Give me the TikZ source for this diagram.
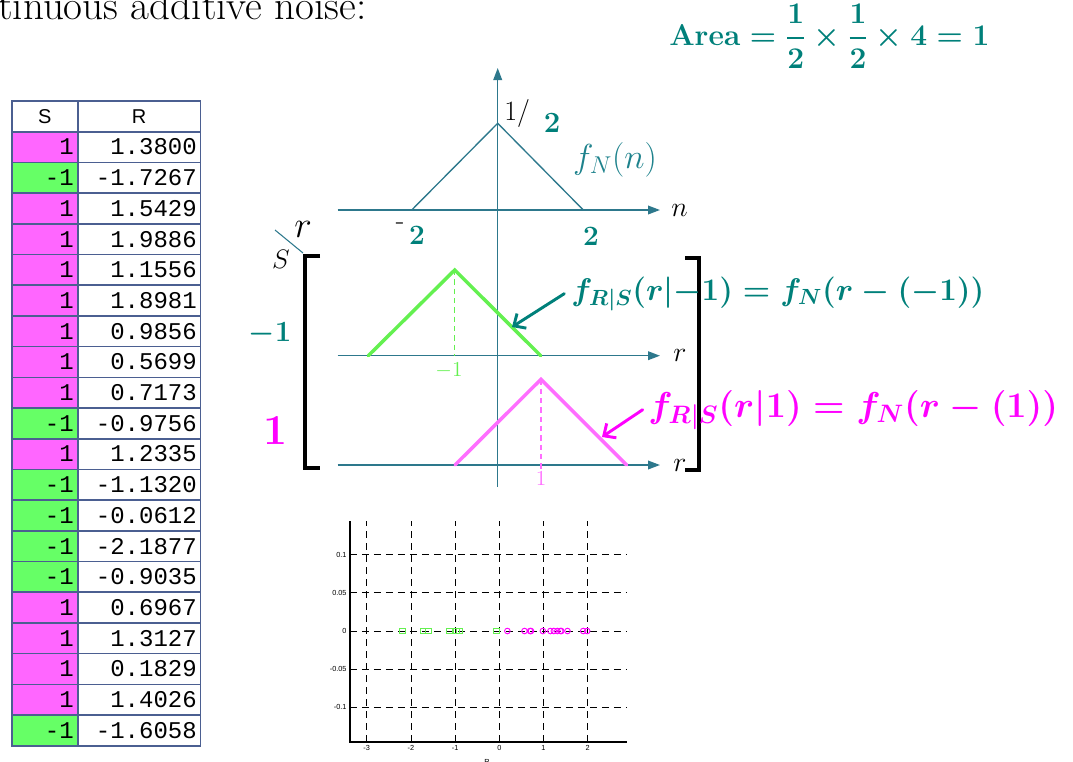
\documentclass[tikz,border=0pt]{standalone}
\usepackage{fix-cm}
\usepackage{amsmath}
\usepackage{fontspec}
\usepackage{xcolor}
\usetikzlibrary{arrows.meta}
\setsansfont{Liberation Sans}
\setmonofont{Liberation Mono}
\definecolor{AxisBlue}{RGB}{45,120,140}
\definecolor{FnTeal}{RGB}{30,130,140}
\definecolor{InkTeal}{RGB}{0,128,122}
\definecolor{InkPink}{RGB}{255,0,255}
\definecolor{CurvePink}{RGB}{255,110,255}
\definecolor{CurveGreen}{RGB}{100,240,80}
\definecolor{CellPink}{RGB}{255,102,255}
\definecolor{CellGreen}{RGB}{102,255,102}
\definecolor{GridLine}{RGB}{75,95,145}
% S / R samples, shared by the table and the scatter plot
\newcommand\samplelist{CellPink/1/1.3800, CellGreen/-1/-1.7267, CellPink/1/1.5429,
  CellPink/1/1.9886, CellPink/1/1.1556, CellPink/1/1.8981, CellPink/1/0.9856,
  CellPink/1/0.5699, CellPink/1/0.7173, CellGreen/-1/-0.9756, CellPink/1/1.2335,
  CellGreen/-1/-1.1320, CellGreen/-1/-0.0612, CellGreen/-1/-2.1877, CellGreen/-1/-0.9035,
  CellPink/1/0.6967, CellPink/1/1.3127, CellPink/1/0.1829, CellPink/1/1.4026,
  CellGreen/-1/-1.6058}

\begin{document}
\begin{tikzpicture}[x=0.75pt, y=-0.75pt,
    axisline/.style={AxisBlue, line width=1.1pt, -{Triangle[length=9pt,width=6.5pt]}},
    cell/.style={draw=GridLine, line width=1.2pt},
    celltext/.style={anchor=east, inner sep=0pt, font=\ttfamily\fontsize{18}{18}\selectfont},
    ink/.style={inner sep=0pt, font=\boldmath\fontsize{#1}{#1}\selectfont},
    lab/.style={inner sep=0pt, font=\fontsize{#1}{#1}\selectfont},
    pdfcurve/.style={line width=2.6pt, line cap=round},
    dropline/.style={dash pattern=on 4pt off 3pt, line width=1.1pt},
    inkarrow/.style={line width=2.2pt, line cap=round, -{Straight Barb[length=7pt,width=13pt]}},
    griddash/.style={black, line width=0.6pt, dash pattern=on 5pt off 4pt},
    ticklab/.style={inner sep=1pt, font=\sffamily\fontsize{5.5}{6}\selectfont}]
  \useasboundingbox (0,0) rectangle (1073,761);

  % Text cut at the top
  \node[anchor=base west, inner sep=0pt, font=\fontsize{30.8}{32}\selectfont] (intro) at (-2,19) {tinuous additive noise:};
  \node[ink=22.5, text=InkTeal, anchor=west] (area) at (669,36) {$\mathbf{Area}=\dfrac{1}{2}\times\dfrac{1}{2}\times 4=1$};

  % Table header
  \draw[cell, fill=white] (11.7,101) rectangle (77.7,131.7);
  \draw[cell, fill=white] (77.7,101) rectangle (200.3,131.7);
  \node[font=\sffamily\fontsize{15}{15}\selectfont] (headS) at (44.7,116.3) {S};
  \node[font=\sffamily\fontsize{15}{15}\selectfont] (headR) at (139,116.3) {R};
  % Table body
  \foreach \cc/\sv/\rv [count=\i] in \samplelist {
    \pgfmathsetmacro\rowtop{131.7+(\i-1)*30.7}
    \pgfmathsetmacro\rowbot{\rowtop+30.7}
    \pgfmathsetmacro\rowmid{\rowtop+15.35}
    \draw[cell, fill=\cc] (11.7,\rowtop) rectangle (77.7,\rowbot);
    \draw[cell, fill=white] (77.7,\rowtop) rectangle (200.3,\rowbot);
    \node[celltext] (s\i) at (74,\rowmid) {\sv};
    \node[celltext] (r\i) at (197,\rowmid) {\rv};
  }

  % Axes
  \coordinate (vBot) at (497.7,486.7);
  \coordinate (vTop) at (497.7,68);
  \coordinate (nLeft) at (337.7,210);
  \coordinate (nRight) at (660,210);
  \coordinate (rALeft) at (337.7,355.7);
  \coordinate (rARight) at (660,355.7);
  \coordinate (rBLeft) at (337.7,465);
  \coordinate (rBRight) at (660,465);
  \draw[axisline] (vBot) -- (vTop);
  \draw[axisline] (nLeft) -- (nRight);
  \draw[axisline] (rALeft) -- (rARight);
  \draw[axisline] (rBLeft) -- (rBRight);
  \node[lab=21, anchor=west] (nLab) at (671,210) {$n$};
  \node[lab=21, anchor=west] (rLabA) at (673,355.7) {$r$};
  \node[lab=21, anchor=west] (rLabB) at (673,465) {$r$};

  % Noise pdf
  \draw[AxisBlue, line width=1pt] (411.7,210) -- (497.7,123.3) -- (583.3,210);
  \node[lab=21, anchor=west] (peakLab) at (504,113) {1/};
  \node[ink=22, text=InkTeal] (peakTwo) at (552,123) {$2$};
  \node[text=FnTeal, font=\fontsize{26}{26}\selectfont] (fN) at (615,160) {$f_N(n)$};
  \node[lab=21] (minusTwo) at (400,226) {-};
  \node[ink=21, text=InkTeal] (leftTwo) at (417,235) {$2$};
  \node[ink=21, text=InkTeal] (rightTwo) at (591,236) {$2$};

  % Corner of the S / r table
  \node[lab=28] (cornerR) at (303,229) {$r$};
  \node[lab=20] (cornerS) at (281,259) {$S$};
  \coordinate (slashA) at (275,230);
  \coordinate (slashB) at (303,253);
  \draw[AxisBlue, line width=0.8pt] (slashA) -- (slashB);

  % Brackets
  \draw[black, line width=3pt] (320,256) -- (305,256) -- (305,468) -- (320,468);
  \draw[black, line width=3pt] (685,258) -- (699,258) -- (699,470) -- (685,470);

  % Conditional pdfs
  \draw[pdfcurve, CurveGreen] (368.3,355.7) -- (454.7,270) -- (540.7,355.7);
  \draw[dropline, CurveGreen] (454.7,270) -- (454.7,355.7);
  \node[text=CurveGreen, font=\fontsize{16}{16}\selectfont] (mOneLab) at (449,371) {$-1$};
  \draw[pdfcurve, CurvePink] (455,465) -- (541,379.3) -- (626.7,465);
  \draw[dropline, CurvePink] (541,379.3) -- (541,472);
  \node[text=CurvePink, font=\fontsize{16}{16}\selectfont] (oneLab) at (541,479) {$1$};
  \node[ink=22, text=InkTeal] (sMinus) at (270,334) {$-1$};
  \node[ink=32, text=InkPink] (sPlus) at (275,431) {$1$};

  % Handwritten notes
  \node[ink=23.5, text=InkTeal, anchor=base west] (condA) at (571,300) {$f_{R|S}(r|{-1})=f_N(r-(-1))$};
  \coordinate (tipA) at (512,327);
  \draw[inkarrow, InkTeal] ([xshift=-5pt]condA.west) -- (tipA);
  \node[ink=27, text=InkPink, anchor=base west] (condB) at (648,417) {$f_{R|S}(r|1)=f_N(r-(1))$};
  \coordinate (tipB) at (602,437);
  \draw[inkarrow, InkPink] ([xshift=-4pt]condB.west) -- (tipB);

  % Scatter of R
  \begin{scope}[shift={(499.3,631)}, x=33.15pt, y=573pt]
    \foreach \gx in {-3,...,2}
      \draw[griddash] (\gx,-0.145) -- (\gx,0.1436);
    \foreach \gy in {-0.1,-0.05,0,0.05,0.1}
      \draw[griddash] (-3.38,\gy) -- (2.88,\gy);
    \draw[black, line width=1.1pt] (-3.38,0.1436) -- (-3.38,-0.145) -- (2.88,-0.145);
    \foreach \gy/\tl [count=\k] in {-0.1/-0.1,-0.05/-0.05,0/0,0.05/0.05,0.1/0.1}
      \node[ticklab, anchor=east] (yt\k) at (-3.42,\gy) {\tl};
    \foreach \gx [count=\k] in {-3,...,2}
      \node[ticklab, anchor=north] (xt\k) at (\gx,-0.148) {\gx};
    \node[ticklab] (xLab) at (-0.28,-0.171) {R};
    \foreach \cc/\sv/\rv in \samplelist {
      \ifnum\sv>0
        \draw[InkPink, line width=0.7pt] (\rv,0) circle (2.1pt);
      \else
        \draw[CurveGreen, line width=0.7pt] ([shift={(-2.2pt,-2.2pt)}]\rv,0) rectangle ([shift={(2.2pt,2.2pt)}]\rv,0);
      \fi
    }
  \end{scope}
\end{tikzpicture}
\end{document}
